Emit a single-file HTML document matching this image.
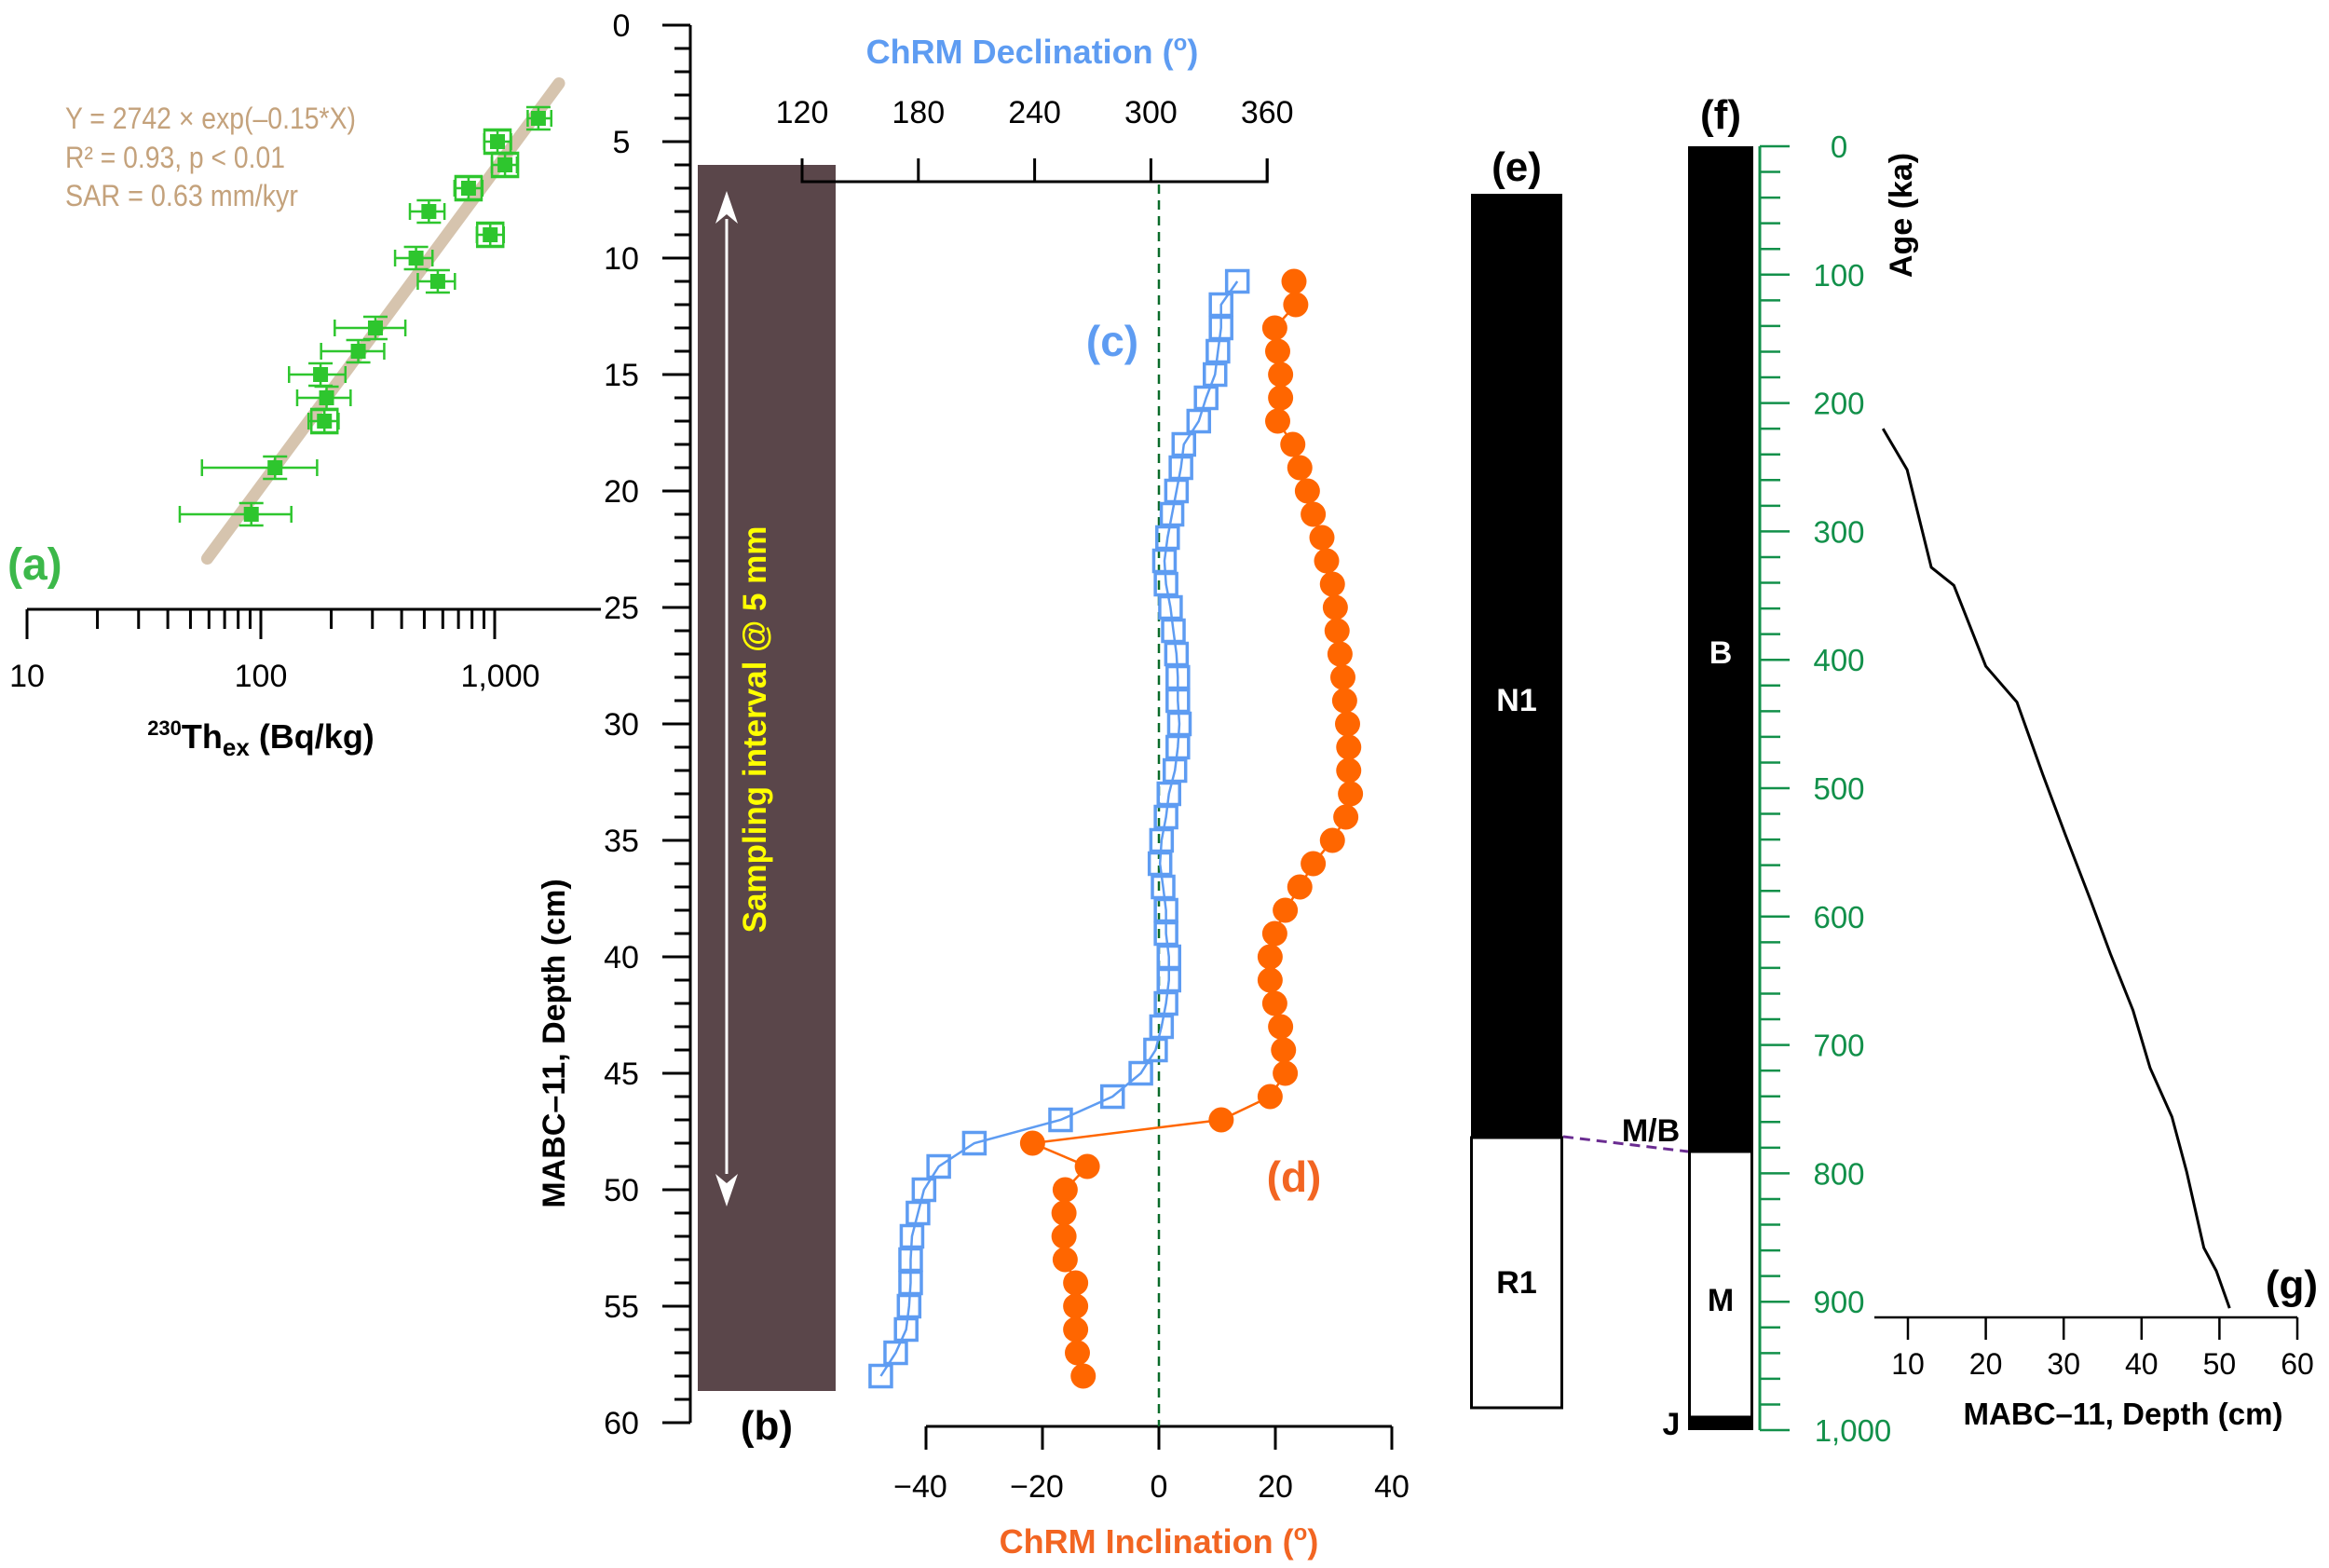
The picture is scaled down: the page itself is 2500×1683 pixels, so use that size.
<!DOCTYPE html>
<html><head><meta charset="utf-8"><style>
html,body{margin:0;padding:0;background:#fff;}
svg{display:block;font-family:"Liberation Sans",Arial,sans-serif;}
</style></head><body>
<svg id="fig" width="2500" height="1683" viewBox="0 0 2500 1683" xmlns="http://www.w3.org/2000/svg">
<g id="gA"></g>
<g id="gD"></g>
<g id="gB"></g>
<g id="gCD"></g>
<g id="gEF"></g>
<g id="gG"></g>
</svg>
<script>
// Panel (a) data
const thDepths = [4,5,6,7,8,9,10,11,13,14,15,16,17,19,21];
const thValues = [1538,1028,1107,773,523,957,461,571,309,261,180,191,187,115,91];
const thLow    = [1384,902,973,673,434,839,375,469,207,181,132,143,160,56,45];
const thHigh   = [1746,1175,1245,886,610,1094,542,676,415,337,230,242,215,174,135];
const thBoxed  = [0,1,1,1,0,1,0,0,0,0,0,0,1,0,0];
const fitDepths = [22.9,2.5];
const fitValues = [59,1884];
const thTicks = [10,100,1000];
const thTickLabels = ["10","100","1,000"];
// Panels (c)/(d) data
const pmDepths = [11,12,13,14,15,16,17,18,19,20,21,22,23,24,25,26,27,28,29,30,31,32,33,34,35,36,37,38,39,40,41,42,43,44,45,46,47,48,49,50,51,52,53,54,55,56,57,58];
const decValues = [344.6,336.2,336.2,334.6,333.1,328.5,324.7,317.0,315.5,313.2,310.9,308.6,307.0,307.8,310.1,311.6,313.2,313.9,313.9,314.7,313.9,312.4,309.3,307.8,305.5,304.7,306.3,307.8,307.8,309.3,309.3,307.8,305.5,302.4,294.8,280.2,253.4,208.9,190.5,182.9,179.8,176.7,176.0,176.0,175.2,173.7,168.3,160.6];
const incValues = [23.2,23.5,19.9,20.4,20.9,20.9,20.4,23.0,24.2,25.5,26.5,28.0,28.8,29.8,30.3,30.6,31.1,31.6,31.9,32.4,32.6,32.6,32.9,32.1,29.8,26.5,24.2,21.7,19.9,19.1,19.1,19.9,20.9,21.4,21.7,19.1,10.7,-21.7,-12.3,-16.1,-16.3,-16.3,-16.1,-14.3,-14.3,-14.3,-14.0,-13.0];
const decTicks = [120,180,240,300,360];
const incTicks = [-40,-20,0,20,40];
const incTickLabels = ["\u221240","\u221220","0","20","40"];
const depthTicks = [0,5,10,15,20,25,30,35,40,45,50,55,60];
// Panel (g) data
const ageTicks = [0,100,200,300,400,500,600,700,800,900,1000];
const ageTickLabels = ["0","100","200","300","400","500","600","700","800","900","1,000"];
const gDepths = [6.8,9.9,13.0,15.9,20.0,24.0,27.3,30.2,33.5,36.0,38.9,41.1,43.9,45.8,48.0,49.6,51.3];
const gAges = [220,252,328,342,405,433,489,536,588,629,673,718,756,799,858,876,905];
const gTicks = [10,20,30,40,50,60];

const NS="http://www.w3.org/2000/svg";
function mk(parent,tag,attrs,text){const e=document.createElementNS(NS,tag);for(const k in attrs)e.setAttribute(k,attrs[k]);if(text!==undefined)e.textContent=text;parent.appendChild(e);return e;}
// scales
const yD = d => 27 + d*25.0;
const xTh = v => 29 + 251*Math.log10(v/10);
const xDec = v => 861 + (v-120)*2.08;
const xInc = v => 1244 + v*6.25;
const yAge = a => 157 + a*1.378;
const xG = d => 2048 + (d-10)*8.36;

// ---------- Depth axis ----------
const gD=document.getElementById('gD');
let l=mk(gD,'line',{x1:741,y1:yD(0),x2:741,y2:yD(60),stroke:'#000','stroke-width':3});


for(let d=0;d<=60;d++){
  const major=d%5===0;
  const t=mk(gD,'line',{x1:major?711:724,y1:yD(d),x2:741,y2:yD(d),stroke:'#000','stroke-width':3});
  
  
}
depthTicks.forEach(d=>{
  const t=mk(gD,'text',{x:667,y:yD(d)+12,'text-anchor':'middle','font-size':34},String(d));
  
  
});
let dt=mk(gD,'text',{x:0,y:0,'font-size':34,'font-weight':'bold','text-anchor':'middle',transform:'translate(606,1120) rotate(-90)'},'MABC\u201311, Depth (cm)');



// ---------- Panel A ----------
const gA=document.getElementById('gA');
l=mk(gA,'line',{x1:29,y1:654,x2:645,y2:654,stroke:'#000','stroke-width':3});


for(let e=1;e<=3;e++){for(let m=1;m<=9;m++){const v=m*Math.pow(10,e);if(v>1000&&m>1)break;
  const t=mk(gA,'line',{x1:xTh(v),y1:654,x2:xTh(v),y2:m===1?686:675,stroke:'#000','stroke-width':3});
  
  
}}
thTicks.forEach((v,i)=>{const t=mk(gA,'text',{x:xTh(v)+(i===2?6:0),y:737,'text-anchor':'middle','font-size':34},thTickLabels[i]);
  
  });
let tt=mk(gA,'text',{x:280,y:803,'text-anchor':'middle','font-size':36,'font-weight':'bold'});


mk(tt,'tspan',{'font-size':22,dy:-14},'230');mk(tt,'tspan',{dy:14},'Th');mk(tt,'tspan',{'font-size':26,dy:8},'ex');mk(tt,'tspan',{dy:-8},' (Bq/kg)');
let fl=mk(gA,'line',{x1:xTh(fitValues[0]),y1:yD(fitDepths[0]),x2:xTh(fitValues[1]),y2:yD(fitDepths[1]),stroke:'#d6c4ae','stroke-width':13,'stroke-linecap':'round'});


const grn='#2ec62e';
thDepths.forEach((d,i)=>{
  const y=yD(d),x=xTh(thValues[i]);
  const g=mk(gA,'g',{});
  
  
  mk(g,'line',{x1:xTh(thLow[i]),y1:y,x2:xTh(thHigh[i]),y2:y,stroke:grn,'stroke-width':2.5});
  mk(g,'line',{x1:xTh(thLow[i]),y1:y-9,x2:xTh(thLow[i]),y2:y+9,stroke:grn,'stroke-width':2.5});
  mk(g,'line',{x1:xTh(thHigh[i]),y1:y-9,x2:xTh(thHigh[i]),y2:y+9,stroke:grn,'stroke-width':2.5});
  mk(g,'line',{x1:x-13,y1:y-12,x2:x+13,y2:y-12,stroke:grn,'stroke-width':2.5});
  mk(g,'line',{x1:x-13,y1:y+12,x2:x+13,y2:y+12,stroke:grn,'stroke-width':2.5});
  mk(g,'line',{x1:x,y1:y-12,x2:x,y2:y+12,stroke:grn,'stroke-width':2.5});
  if(thBoxed[i]) mk(g,'rect',{x:x-14,y:y-13,width:28,height:26,fill:'none',stroke:grn,'stroke-width':2.5});
  mk(g,'rect',{x:x-8,y:y-8,width:16,height:16,fill:grn});
});
[['Y = 2742 \u00d7 exp(\u20130.15*X)',138,312],['R\u00b2 = 0.93, p < 0.01',180,236],['SAR = 0.63 mm/kyr',221,250]].forEach((r,i)=>{
  const t=mk(gA,'text',{x:70,y:r[1],'font-size':32,fill:'#c4a27c',textLength:r[2],lengthAdjust:'spacingAndGlyphs'},r[0]);
  
  
});
let la=mk(gA,'text',{x:8,y:622,'font-size':48,'font-weight':'bold',fill:'#3cb84a'},'(a)');



// ---------- Panel B ----------
const gB=document.getElementById('gB');
let core=mk(gB,'rect',{x:749,y:177,width:148,height:1316,fill:'#5a464a'});


let ar=mk(gB,'g',{});


mk(ar,'line',{x1:780,y1:235,x2:780,y2:1260,stroke:'#fff','stroke-width':3});
mk(ar,'polygon',{points:'780,205 768,240 780,230 792,240',fill:'#fff'});
mk(ar,'polygon',{points:'780,1295 768,1260 780,1270 792,1260',fill:'#fff'});
let st=mk(gB,'text',{x:0,y:0,'font-size':35,'font-weight':'bold',fill:'#ffff00','text-anchor':'middle',transform:'translate(822,783) rotate(-90)'},'Sampling interval @ 5 mm');


let lb=mk(gB,'text',{x:823,y:1545,'font-size':44,'font-weight':'bold','text-anchor':'middle'},'(b)');



// ---------- Panels C/D ----------
const gCD=document.getElementById('gCD');
l=mk(gCD,'polyline',{points:`${xDec(120)},170 ${xDec(120)},195 ${xDec(360)},195 ${xDec(360)},170`,fill:'none',stroke:'#000','stroke-width':3});


decTicks.forEach(v=>{
  const t=mk(gCD,'line',{x1:xDec(v),y1:170,x2:xDec(v),y2:195,stroke:'#000','stroke-width':3});
  
  
  const s=mk(gCD,'text',{x:xDec(v),y:132,'text-anchor':'middle','font-size':34},String(v));
  
  
});
let dtl=mk(gCD,'text',{x:1108,y:68,'text-anchor':'middle','font-size':36,'font-weight':'bold',fill:'#5e9cf2'});


dtl.innerHTML='ChRM Declination (<tspan font-size="24" dy="-14">o</tspan><tspan dy="14">)</tspan>';
l=mk(gCD,'line',{x1:xInc(-40),y1:1531,x2:xInc(40),y2:1531,stroke:'#000','stroke-width':3});


incTicks.forEach((v,i)=>{
  const t=mk(gCD,'line',{x1:xInc(v),y1:1531,x2:xInc(v),y2:1556,stroke:'#000','stroke-width':3});
  
  
  const s=mk(gCD,'text',{x:xInc(v)-(v<0?6:0),y:1607,'text-anchor':'middle','font-size':34},incTickLabels[i]);
  
  
});
let itl=mk(gCD,'text',{x:1244,y:1667,'text-anchor':'middle','font-size':36,'font-weight':'bold',fill:'#f26522'});


itl.innerHTML='ChRM Inclination (<tspan font-size="24" dy="-14">o</tspan><tspan dy="14">)</tspan>';
let zl=mk(gCD,'line',{x1:xInc(0),y1:198,x2:xInc(0),y2:1531,stroke:'#0a6b2a','stroke-width':2.5,'stroke-dasharray':'10,7'});


// inclination series
let ip=mk(gCD,'polyline',{points:pmDepths.map((d,i)=>xInc(incValues[i])+','+yD(d)).join(' '),fill:'none',stroke:'#ff6600','stroke-width':2.5});


pmDepths.forEach((d,i)=>{
  const c=mk(gCD,'circle',{cx:xInc(incValues[i]),cy:yD(d),r:13.5,fill:'#ff6600'});
  
  
});
// declination series
let dp=mk(gCD,'polyline',{points:pmDepths.map((d,i)=>xDec(decValues[i])+','+yD(d)).join(' '),fill:'none',stroke:'#5e9cf2','stroke-width':2.5});


pmDepths.forEach((d,i)=>{
  const r=mk(gCD,'rect',{x:xDec(decValues[i])-11.5,y:yD(d)-11.5,width:23,height:23,fill:'none',stroke:'#5e9cf2','stroke-width':3.5});
  
  
});
let lc=mk(gCD,'text',{x:1194,y:382,'text-anchor':'middle','font-size':46,'font-weight':'bold',fill:'#5e9cf2'},'(c)');


let ld=mk(gCD,'text',{x:1389,y:1279,'text-anchor':'middle','font-size':46,'font-weight':'bold',fill:'#f26522'},'(d)');



// ---------- Panels E/F ----------
const gEF=document.getElementById('gEF');
let e1=mk(gEF,'rect',{x:1579,y:208,width:98,height:1013,fill:'#000'});


let e2=mk(gEF,'rect',{x:1579.5,y:1221,width:97,height:290,fill:'#fff',stroke:'#000','stroke-width':3});


let f1=mk(gEF,'rect',{x:1812,y:157,width:70,height:1079,fill:'#000'});


let f2=mk(gEF,'rect',{x:1813.5,y:1236,width:67,height:285,fill:'#fff',stroke:'#000','stroke-width':3});


let f3=mk(gEF,'rect',{x:1812,y:1521,width:70,height:14,fill:'#000'});


let mb=mk(gEF,'line',{x1:1678,y1:1220,x2:1812,y2:1236,stroke:'#6a2c91','stroke-width':3,'stroke-dasharray':'11,7'});


[['N1',1628,763,'#fff','n1-label'],['R1',1628,1388,'#000','r1-label'],['B',1847,712,'#fff','b-label'],['M',1847,1407,'#000','m-label'],['J',1794,1540,'#000','j-label'],['M/B',1772,1225,'#000','mb-label'],['(e)',1628,194,'#000','panel-e-label'],['(f)',1847,138,'#000','panel-f-label']].forEach(r=>{
  const t=mk(gEF,'text',{x:r[1],y:r[2],'text-anchor':'middle','font-size':r[0].startsWith('(')?44:34,'font-weight':'bold',fill:r[3]},r[0]);
  
  
});

// ---------- Panel G ----------
const gG=document.getElementById('gG');
const gc='#12904a';
l=mk(gG,'line',{x1:1889,y1:yAge(0),x2:1889,y2:yAge(1000),stroke:gc,'stroke-width':3});


for(let a=0;a<=1000;a+=20){
  const t=mk(gG,'line',{x1:1889,y1:yAge(a),x2:a%100===0?1921:1911,y2:yAge(a),stroke:gc,'stroke-width':2.5});
  
  
}
ageTicks.forEach((a,i)=>{
  const t=mk(gG,'text',{x:a===1000?1989:1974,y:yAge(a)+12,'text-anchor':'middle','font-size':33,fill:gc},ageTickLabels[i]);
  
  
});
let at=mk(gG,'text',{x:0,y:0,'font-size':34,'font-weight':'bold','text-anchor':'middle',transform:'translate(2052,231) rotate(-90)'},'Age (ka)');


l=mk(gG,'line',{x1:2012,y1:1414,x2:2466,y2:1414,stroke:'#000','stroke-width':2.5});


gTicks.forEach(d=>{
  const t=mk(gG,'line',{x1:xG(d),y1:1414,x2:xG(d),y2:1438,stroke:'#000','stroke-width':2.5});
  
  
  const s=mk(gG,'text',{x:xG(d),y:1475,'text-anchor':'middle','font-size':32},String(d));
  
  
});
let gt=mk(gG,'text',{x:2279,y:1529,'text-anchor':'middle','font-size':33,'font-weight':'bold'},'MABC\u201311, Depth (cm)');


let gl=mk(gG,'polyline',{points:gDepths.map((d,i)=>xG(d)+','+yAge(gAges[i])).join(' '),fill:'none',stroke:'#000','stroke-width':3});


let lg=mk(gG,'text',{x:2460,y:1394,'text-anchor':'middle','font-size':44,'font-weight':'bold'},'(g)');


</script>
</body></html>
